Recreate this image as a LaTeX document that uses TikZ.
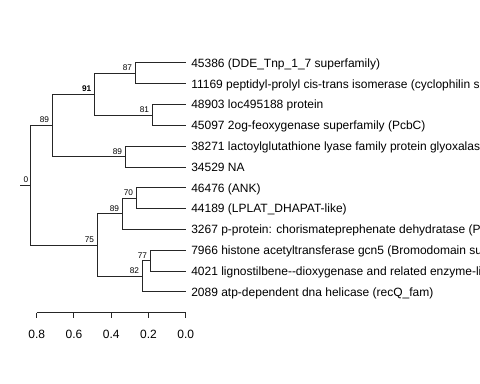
\documentclass[tikz,border=0pt]{standalone}
\usepackage{fontspec}
\setmainfont{Liberation Sans}
\begin{document}
\begin{tikzpicture}[x=0.75pt,y=-0.75pt,
  br/.style={draw=black!85, line width=0.75pt},
  leaf/.style={anchor=base west, inner sep=0pt, font=\fontsize{9}{10}\selectfont},
  boot/.style={anchor=base east, inner sep=0pt, font=\fontsize{6.2}{7}\selectfont},
  ticklab/.style={anchor=base, inner sep=0pt, font=\fontsize{9}{10}\selectfont}]
\useasboundingbox (0,0) rectangle (480,384);
\clip (0,0) rectangle (480,384);
% tips
\coordinate (t1) at (185.7,63);
\coordinate (t2) at (185.7,83.8);
\coordinate (t3) at (185.7,104.6);
\coordinate (t4) at (185.7,125.5);
\coordinate (t5) at (185.7,146.3);
\coordinate (t6) at (185.7,167.1);
\coordinate (t7) at (185.7,187.9);
\coordinate (t8) at (185.7,208.7);
\coordinate (t9) at (185.7,229.5);
\coordinate (t10) at (185.7,250.3);
\coordinate (t11) at (185.7,271.2);
\coordinate (t12) at (185.7,292);
% internal nodes
\coordinate (n87) at (136,73.4);
\coordinate (n81) at (153,115.05);
\coordinate (n91) at (95,94.2);
\coordinate (n89c) at (126,156.7);
\coordinate (n89a) at (53,125.5);
\coordinate (n70) at (137,198.3);
\coordinate (n89b) at (123,213.9);
\coordinate (n77) at (151,260.7);
\coordinate (n82) at (143,276.4);
\coordinate (n75) at (98,245.1);
\coordinate (root) at (31,185.3);
\coordinate (stub) at (20.5,185.3);
% branches
\draw[br] (n87) |- (t1);  \draw[br] (n87) |- (t2);
\draw[br] (n81) |- (t3);  \draw[br] (n81) |- (t4);
\draw[br] (n91) |- (n87); \draw[br] (n91) |- (n81);
\draw[br] (n89c) |- (t5); \draw[br] (n89c) |- (t6);
\draw[br] (n89a) |- (n91); \draw[br] (n89a) |- (n89c);
\draw[br] (n70) |- (t7);  \draw[br] (n70) |- (t8);
\draw[br] (n89b) |- (n70); \draw[br] (n89b) |- (t9);
\draw[br] (n77) |- (t10); \draw[br] (n77) |- (t11);
\draw[br] (n82) |- (n77); \draw[br] (n82) |- (t12);
\draw[br] (n75) |- (n89b); \draw[br] (n75) |- (n82);
\draw[br] (root) |- (n89a); \draw[br] (root) |- (n75);
\draw[br] (stub) -- (root);
% bootstrap labels
\node[boot] (b87) at ([xshift=-2.8pt,yshift=2pt]n87) {87};
\node[boot] (b81) at ([xshift=-2.8pt,yshift=2pt]n81) {81};
\node[boot] (b91) at ([xshift=-2.6pt,yshift=2pt]n91) {\textbf{91}};
\node[boot] (b89c) at ([xshift=-2.8pt,yshift=2pt]n89c) {89};
\node[boot] (b89a) at ([xshift=-2.8pt,yshift=2pt]n89a) {89};
\node[boot] (b70) at ([xshift=-2.8pt,yshift=2pt]n70) {70};
\node[boot] (b89b) at ([xshift=-2.8pt,yshift=2pt]n89b) {89};
\node[boot] (b77) at ([xshift=-2.8pt,yshift=2pt]n77) {77};
\node[boot] (b82) at ([xshift=-2.8pt,yshift=2pt]n82) {82};
\node[boot] (b75) at ([xshift=-2.8pt,yshift=2pt]n75) {75};
\node[boot] (b0) at ([xshift=-1.8pt,yshift=2pt]root) {0};
% leaf labels
\node[leaf] (l1) at ([xshift=4pt,yshift=-3.2pt]t1) {45386 (DDE\_Tnp\_1\_7 superfamily)};
\node[leaf] (l2) at ([xshift=4pt,yshift=-3.2pt]t2) {11169 peptidyl-prolyl cis-trans isomerase (cyclophilin superfamily)};
\node[leaf] (l3) at ([xshift=4pt,yshift=-3.2pt]t3) {48903 loc495188 protein};
\node[leaf] (l4) at ([xshift=4pt,yshift=-3.2pt]t4) {45097 2og-feoxygenase superfamily (PcbC)};
\node[leaf] (l5) at ([xshift=4pt,yshift=-3.2pt]t5) {38271 lactoylglutathione lyase family protein glyoxalase i};
\node[leaf] (l6) at ([xshift=4pt,yshift=-3.2pt]t6) {34529 NA};
\node[leaf] (l7) at ([xshift=4pt,yshift=-3.2pt]t7) {46476 (ANK)};
\node[leaf] (l8) at ([xshift=4pt,yshift=-3.2pt]t8) {44189 (LPLAT\_DHAPAT-like)};
\node[leaf] (l9) at ([xshift=4pt,yshift=-3.2pt]t9) {3267 p-protein: chorismateprephenate dehydratase (PheA)};
\node[leaf] (l10) at ([xshift=4pt,yshift=-3.2pt]t10) {7966 histone acetyltransferase gcn5 (Bromodomain superfamily)};
\node[leaf] (l11) at ([xshift=4pt,yshift=-3.2pt]t11) {4021 lignostilbene{-}{-}dioxygenase and related enzyme-like};
\node[leaf] (l12) at ([xshift=4pt,yshift=-3.2pt]t12) {2089 atp-dependent dna helicase (recQ\_fam)};
% scale axis
\coordinate (a8) at (36.7,313);
\coordinate (a6) at (73.95,313);
\coordinate (a4) at (111.2,313);
\coordinate (a2) at (148.45,313);
\coordinate (a0) at (185.7,313);
\draw[br] (a8) -- (a0);
\foreach \c/\v in {a8/0.8,a6/0.6,a4/0.4,a2/0.2,a0/0.0}{
  \draw[br] (\c) -- ++(0,5.5);
  \node[ticklab] (lab\c) at ([yshift=-18.8pt]\c) {\v};
}
\end{tikzpicture}
\end{document}
